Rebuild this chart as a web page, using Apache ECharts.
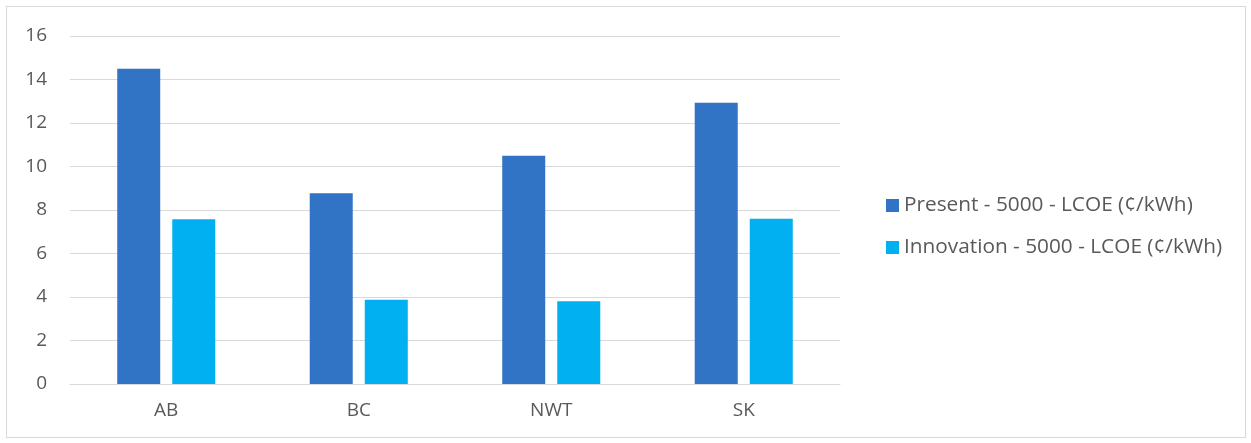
<!DOCTYPE html>
<html>
<head>
<meta charset="utf-8">
<script src="https://cdn.jsdelivr.net/npm/echarts@6/dist/echarts.min.js"></script>
<style>
  html, body { margin: 0; padding: 0; background: #fff; }
  #main { width: 1251px; height: 443px; }
  #frame { position: absolute; left: 6px; top: 6px; width: 1238px; height: 430px; border: 1px solid #d9d9d9; pointer-events: none; }
</style>
</head>
<body>
<div id="main"></div>
<div id="frame"></div>
<script>
// provinces / territories
var categories = ['AB', 'BC', 'NWT', 'SK'];
var presentLcoe = [14.5, 8.77, 10.5, 12.93];
var innovationLcoe = [7.57, 3.87, 3.8, 7.6];
var seriesNames = ['Present - 5000 - LCOE (¢/kWh)', 'Innovation - 5000 - LCOE (¢/kWh)'];

var chart = echarts.init(document.getElementById('main'), null, { renderer: 'canvas' });

var font = '"Open Sans", "Noto Sans", sans-serif';

var option = {
  animation: false,
  textStyle: { fontFamily: font },
  grid: {
    left: 70,
    right: 411,
    top: 36,
    bottom: 59
  },
  legend: {
    orient: 'vertical',
    left: 881,
    top: 190,
    itemWidth: 13,
    itemHeight: 13,
    itemGap: 21,
    icon: 'rect',
    textStyle: { fontSize: 20.8, color: '#595959', fontFamily: font },
    data: seriesNames
  },
  xAxis: {
    type: 'category',
    data: categories,
    axisLine: { show: true, lineStyle: { color: '#d9d9d9', width: 1 } },
    axisTick: { show: false },
    axisLabel: { fontSize: 19, color: '#595959', margin: 17 }
  },
  yAxis: {
    type: 'value',
    min: 0,
    max: 16,
    interval: 2,
    axisLine: { show: false },
    axisTick: { show: false },
    axisLabel: { fontSize: 19, color: '#595959', margin: 23 },
    splitLine: { lineStyle: { color: '#d9d9d9', width: 1 } }
  },
  series: [
    {
      name: seriesNames[0],
      type: 'bar',
      data: presentLcoe,
      barWidth: 43,
      barGap: '28%',
      itemStyle: { color: '#3173C4' }
    },
    {
      name: seriesNames[1],
      type: 'bar',
      data: innovationLcoe,
      barWidth: 43,
      itemStyle: { color: '#00B0F0' }
    }
  ]
};

chart.setOption(option);
</script>
</body>
</html>
